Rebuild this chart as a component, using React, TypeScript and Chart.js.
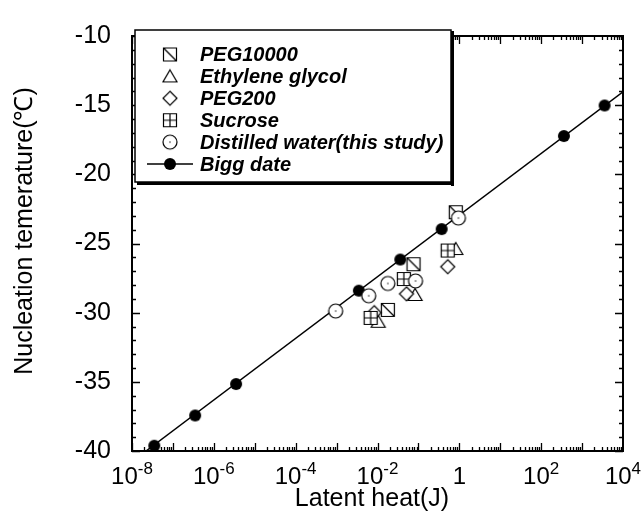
import React, { useEffect, useRef } from "react";
import { Chart, registerables } from "chart.js";

Chart.register(...registerables);

// ---- data (x: latent heat in J, y: nucleation temperature in °C) ----
const peg10000X = [0.82, 0.076, 0.0179];
const peg10000Y = [-22.74, -26.5, -29.8];
const ethyleneX = [0.82, 0.083, 0.0104];
const ethyleneY = [-25.4, -28.72, -30.66];
const peg200X = [0.52, 0.051, 0.0083];
const peg200Y = [-26.68, -28.64, -30.0];
const sucroseX = [0.52, 0.044, 0.0068];
const sucroseY = [-25.51, -27.57, -30.38];
const waterX = [0.95, 0.085, 0.0179, 0.0061, 0.00095];
const waterY = [-23.16, -27.71, -27.89, -28.78, -29.88];
const biggX = [3.5e-8, 3.5e-7, 3.5e-6, 3.5e-3, 0.036, 0.37, 360, 3550];
const biggY = [-39.62, -37.43, -35.16, -28.41, -26.16, -23.96, -17.23, -15.02];
const fitX = [2.2e-8, 1e4];
const fitY = [-40, -14.03];

const seriesLabels = [
  "PEG10000",
  "Ethylene glycol",
  "PEG200",
  "Sucrose",
  "Distilled water(this study)",
  "Bigg date",
];

const xTickValues = [1e-8, 1e-6, 1e-4, 1e-2, 1, 1e2, 1e4];
const xTickBases = ["10", "10", "10", "10", "1", "10", "10"];
const xTickExps = ["-8", "-6", "-4", "-2", "", "2", "4"];
const yMin = -40;
const yMax = -10;
const xTitle = "Latent heat(J)";
const yTitle = "Nucleation temerature(\u2103)";

const FONT = '"Liberation Sans", Arial, sans-serif';

function toPts(xs: number[], ys: number[]) {
  return xs.map((x, i) => ({ x, y: ys[i] }));
}

function makeMarker(kind: string): HTMLCanvasElement {
  const w = 18;
  const c = document.createElement("canvas");
  c.width = w;
  c.height = w;
  const ctx = c.getContext("2d")!;
  ctx.lineWidth = 1.2;
  ctx.strokeStyle = "#000";
  ctx.fillStyle = "#fff";
  const m = w / 2;
  const h = 6.5;
  ctx.beginPath();
  if (kind === "squareDiag" || kind === "squareCross") {
    ctx.rect(m - h, m - h, 2 * h, 2 * h);
    ctx.fill();
    ctx.stroke();
    ctx.beginPath();
    if (kind === "squareDiag") {
      ctx.moveTo(m - h, m - h);
      ctx.lineTo(m + h, m + h);
    } else {
      ctx.moveTo(m, m - h);
      ctx.lineTo(m, m + h);
      ctx.moveTo(m - h, m);
      ctx.lineTo(m + h, m);
    }
    ctx.stroke();
  } else if (kind === "triangle") {
    ctx.moveTo(m, m - 6.5);
    ctx.lineTo(m + 7, m + 5.5);
    ctx.lineTo(m - 7, m + 5.5);
    ctx.closePath();
    ctx.fill();
    ctx.stroke();
  } else if (kind === "diamond") {
    ctx.moveTo(m, m - 7);
    ctx.lineTo(m + 7, m);
    ctx.lineTo(m, m + 7);
    ctx.lineTo(m - 7, m);
    ctx.closePath();
    ctx.fill();
    ctx.stroke();
  } else if (kind === "circleDot") {
    ctx.arc(m, m, 7, 0, Math.PI * 2);
    ctx.fill();
    ctx.stroke();
    ctx.beginPath();
    ctx.fillStyle = "#000";
    ctx.arc(m, m, 0.7, 0, Math.PI * 2);
    ctx.fill();
  } else if (kind === "filled") {
    ctx.fillStyle = "#000";
    ctx.arc(m, m, 6, 0, Math.PI * 2);
    ctx.fill();
  }
  return c;
}

export default function App() {
  const ref = useRef<HTMLCanvasElement>(null);

  useEffect(() => {
    const markers = {
      squareDiag: makeMarker("squareDiag"),
      triangle: makeMarker("triangle"),
      diamond: makeMarker("diamond"),
      squareCross: makeMarker("squareCross"),
      circleDot: makeMarker("circleDot"),
      filled: makeMarker("filled"),
    };
    const legendMarkers = [
      markers.squareDiag,
      markers.triangle,
      markers.diamond,
      markers.squareCross,
      markers.circleDot,
      markers.filled,
    ];

    const decor = {
      id: "decor",
      afterDraw(chart: any) {
        const ctx = chart.ctx as CanvasRenderingContext2D;
        const { left, right, top, bottom } = chart.chartArea;
        const xs = chart.scales.x;
        const ys = chart.scales.y;
        ctx.save();
        ctx.strokeStyle = "#000";
        // ticks
        ctx.lineWidth = 1.3;
        ctx.beginPath();
        for (let e = -8; e < 4; e++) {
          for (let k = 1; k <= 9; k++) {
            const v = k * Math.pow(10, e);
            const px = Math.round(xs.getPixelForValue(v)) + 0.5;
            const len = k === 1 ? 8 : 4;
            ctx.moveTo(px, bottom);
            ctx.lineTo(px, bottom - len);
            ctx.moveTo(px, top);
            ctx.lineTo(px, top + len);
          }
        }
        for (let v = yMin; v <= yMax; v++) {
          const py = Math.round(ys.getPixelForValue(v)) + 0.5;
          const len = v % 5 === 0 ? 8 : 4;
          ctx.moveTo(left, py);
          ctx.lineTo(left + len, py);
          ctx.moveTo(right, py);
          ctx.lineTo(right - len, py);
        }
        ctx.stroke();
        // frame
        ctx.lineWidth = 2;
        ctx.strokeRect(left, top, right - left, bottom - top);

        // x tick labels with superscripts
        ctx.fillStyle = "#000";
        ctx.textBaseline = "alphabetic";
        xTickValues.forEach((v, i) => {
          const px = xs.getPixelForValue(v);
          ctx.font = `24px ${FONT}`;
          const bw = ctx.measureText(xTickBases[i]).width;
          ctx.font = `17px ${FONT}`;
          const ew = xTickExps[i] ? ctx.measureText(xTickExps[i]).width : 0;
          let x0 = px - (bw + ew) / 2;
          if (x0 + bw + ew > 642) x0 = 642 - bw - ew;
          ctx.font = `24px ${FONT}`;
          ctx.textAlign = "left";
          ctx.fillText(xTickBases[i], x0, 484);
          if (xTickExps[i]) {
            ctx.font = `17px ${FONT}`;
            ctx.fillText(xTickExps[i], x0 + bw, 474);
          }
        });

        // axis titles
        ctx.font = `25px ${FONT}`;
        ctx.textAlign = "center";
        ctx.textBaseline = "middle";
        ctx.fillText(xTitle, 372, 499);
        ctx.save();
        ctx.translate(25, 231);
        ctx.rotate(-Math.PI / 2);
        ctx.fillText(yTitle, 0, 0);
        ctx.restore();

        // legend box
        const bx = 135, by = 30, bw2 = 316, bh = 152;
        ctx.fillStyle = "#fff";
        ctx.fillRect(bx, by, bw2, bh);
        ctx.lineWidth = 1.5;
        ctx.strokeRect(bx, by, bw2, bh);
        ctx.fillStyle = "#000";
        ctx.fillRect(bx + bw2, by + 1, 3, bh + 3);
        ctx.fillRect(bx + 2, by + bh, bw2 + 1, 3);
        ctx.font = `italic bold 20px ${FONT}`;
        ctx.textBaseline = "middle";
        ctx.textAlign = "left";
        seriesLabels.forEach((lab, i) => {
          const cy = 54.5 + i * 21.9;
          if (i === 5) {
            ctx.lineWidth = 1.5;
            ctx.beginPath();
            ctx.moveTo(147, cy);
            ctx.lineTo(193, cy);
            ctx.stroke();
          }
          const mk = legendMarkers[i];
          ctx.drawImage(mk, 170 - mk.width / 2, cy - mk.height / 2);
          ctx.fillText(lab, 200, cy + 1);
        });
        ctx.restore();
      },
    };

    const chart = new Chart(ref.current!, {
      type: "scatter",
      data: {
        datasets: [
          {
            label: seriesLabels[4],
            data: toPts(waterX, waterY),
            pointStyle: markers.circleDot,
            showLine: false,
          },
          {
            label: seriesLabels[3],
            data: toPts(sucroseX, sucroseY),
            pointStyle: markers.squareCross,
            showLine: false,
          },
          {
            label: seriesLabels[2],
            data: toPts(peg200X, peg200Y),
            pointStyle: markers.diamond,
            showLine: false,
          },
          {
            label: seriesLabels[1],
            data: toPts(ethyleneX, ethyleneY),
            pointStyle: markers.triangle,
            showLine: false,
          },
          {
            label: seriesLabels[0],
            data: toPts(peg10000X, peg10000Y),
            pointStyle: markers.squareDiag,
            showLine: false,
          },
          {
            label: seriesLabels[5],
            data: toPts(biggX, biggY),
            pointStyle: markers.filled,
            showLine: false,
          },
          {
            label: "fit",
            data: toPts(fitX, fitY),
            showLine: true,
            borderColor: "#000",
            borderWidth: 1.5,
            pointRadius: 0,
            pointHoverRadius: 0,
          },
        ] as any,
      },
      options: {
        animation: false,
        responsive: true,
        maintainAspectRatio: false,
        layout: { padding: { top: 29, right: 20, left: 0, bottom: 0 } },
        plugins: {
          legend: { display: false },
          tooltip: { enabled: false },
        },
        scales: {
          x: {
            type: "logarithmic",
            min: 1e-8,
            max: 1e4,
            grid: { display: false, drawTicks: false },
            border: { display: false },
            ticks: { display: false },
            afterFit: (s: any) => {
              s.height = 69;
            },
          },
          y: {
            type: "linear",
            min: yMin,
            max: yMax,
            grid: { display: false, drawTicks: false },
            border: { display: false },
            ticks: {
              stepSize: 5,
              color: "#000",
              padding: 21,
              font: { family: FONT, size: 25 },
            },
            afterFit: (s: any) => {
              s.width = 132;
            },
          },
        },
      } as any,
      plugins: [decor],
    });
    return () => chart.destroy();
  }, []);

  return (
    <div
      style={{
        position: "absolute",
        left: 0,
        top: 0,
        width: 643,
        height: 520,
        background: "#fff",
      }}
    >
      <canvas ref={ref} />
    </div>
  );
}
